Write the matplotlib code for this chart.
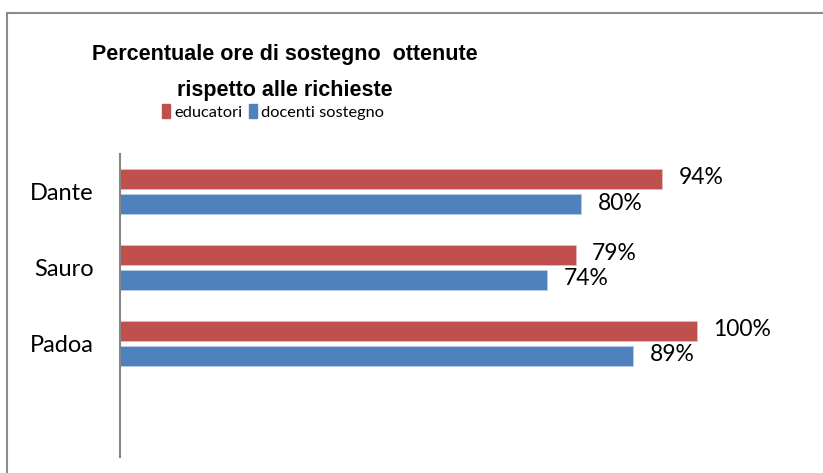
import matplotlib.pyplot as plt
from matplotlib.patches import Rectangle, Patch

categories = ['Dante', 'Sauro', 'Padoa']
educatori = [0.94, 0.79, 1.00]
docenti = [0.80, 0.74, 0.89]
series_names = ['educatori', 'docenti sostegno']
title_lines = ['Percentuale ore di sostegno  ottenute', 'rispetto alle richieste']

red = '#C0504D'
blue = '#4F81BD'
label_font = 'Lato'

fig = plt.figure(figsize=(8.23, 4.73), dpi=100)
W, H = 823, 473

# outer chart border (cut off at right/bottom like the screenshot)
fig.patches.append(Rectangle((7 / W, -0.1), 1.1, 1 - 13 / H + 0.1,
                             transform=fig.transFigure, fill=False,
                             edgecolor='#8c8c8c', linewidth=1.5))

ax = fig.add_axes([120 / W, 1 - 457 / H, 692 / W, 303 / H])

pos = range(len(categories))
h = 0.264
off = 0.166
ax.barh([p - off for p in pos], educatori, height=h, color=red,
        edgecolor='#e6b9b8', linewidth=0.6)
ax.barh([p + off for p in pos], docenti, height=h, color=blue,
        edgecolor='#b9cde5', linewidth=0.6)

for p, v in zip(pos, educatori):
    ax.annotate(f'{v:.0%}', (v, p - off), xytext=(12, 1), textcoords='offset points',
                ha='left', va='center', fontsize=16.5, family=label_font)
for p, v in zip(pos, docenti):
    ax.annotate(f'{v:.0%}', (v, p + off), xytext=(12, 1), textcoords='offset points',
                ha='left', va='center', fontsize=16.5, family=label_font)

ax.set_xlim(0, 1.2)
ax.set_ylim(3.5, -0.5)
ax.set_yticks(list(pos))
ax.set_yticklabels(categories, fontsize=17, family=label_font)
ax.tick_params(axis='y', length=0, pad=19)
ax.set_xticks([])
for s in ['top', 'right', 'bottom']:
    ax.spines[s].set_visible(False)
ax.spines['left'].set_color('#868686')
ax.spines['left'].set_linewidth(1.5)

fig.text(285 / W, 1 - 60 / H, title_lines[0], ha='center', va='baseline',
         fontsize=15.5, fontweight='bold', family='Liberation Sans')
fig.text(285 / W, 1 - 96 / H, title_lines[1], ha='center', va='baseline',
         fontsize=15.5, fontweight='bold', family='Liberation Sans')

handles = [Patch(color=red), Patch(color=blue)]
fig.legend(handles, series_names, loc='center', bbox_to_anchor=(273 / W, 1 - 112 / H),
           ncol=2, frameon=False, handlelength=0.5, handleheight=0.9,
           handletextpad=0.25, columnspacing=0.4, borderaxespad=0,
           prop={'family': label_font, 'size': 11.8})

fig.savefig('out.png', dpi=100)
